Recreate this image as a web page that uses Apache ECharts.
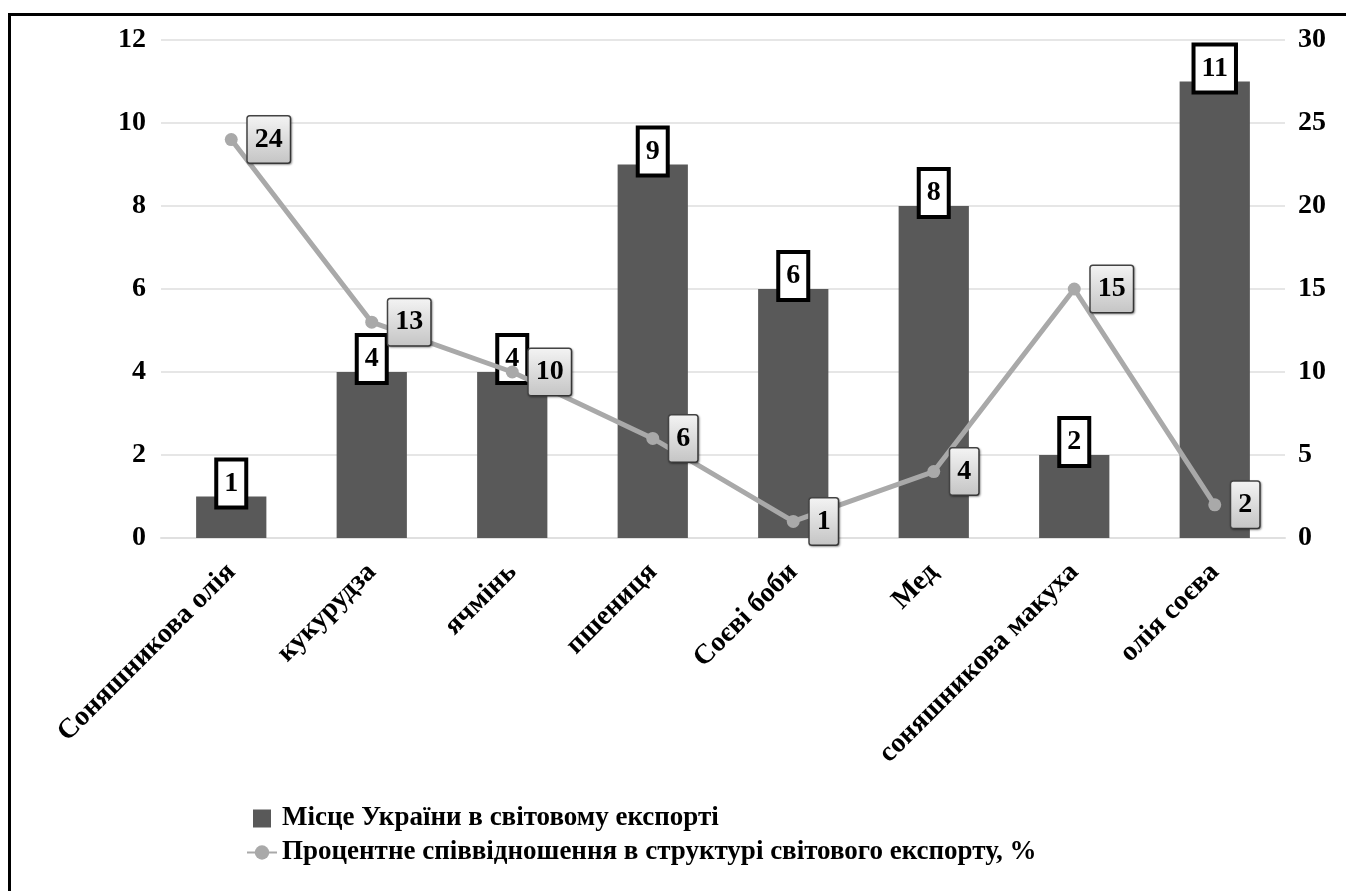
<!DOCTYPE html>
<html>
<head>
<meta charset="utf-8">
<script src="https://cdn.jsdelivr.net/npm/echarts@6/dist/echarts.min.js"></script>
<style>
  html, body { margin: 0; padding: 0; background: #fff; overflow: hidden; }
  #frame { position: absolute; left: 8px; top: 13px; width: 1500px; height: 1000px;
           border-left: 3px solid #000; border-top: 3px solid #000; }
  #chart { position: absolute; left: 0; top: 0; width: 1346px; height: 891px; }
</style>
</head>
<body>
<div id="frame"></div>
<div id="chart"></div>
<script>
// ---- дані ----
var categories = ["Соняшникова олія", "кукурудза", "ячмінь", "пшениця", "Соєві боби", "Мед", "соняшникова макуха", "олія соєва"];
var rankValues = [1, 4, 4, 9, 6, 8, 2, 11];
var shareValues = [24, 13, 10, 6, 1, 4, 15, 2];
var seriesNames = ["Місце України в світовому експорті", "Процентне співвідношення в структурі світового експорту, %"];

var FONT = "'Liberation Serif', 'Times New Roman', serif";
var BAR_COLOR = "#595959";
var LINE_COLOR = "#a9a9a9";

var chart = echarts.init(document.getElementById("chart"), null, { renderer: "canvas" });

chart.setOption({
  animation: false,
  textStyle: { fontFamily: FONT, color: "#000" },
  grid: { left: 161, right: 61, top: 40, bottom: 353 },
  legend: {
    orient: "vertical",
    left: 241,
    top: 800,
    itemGap: 7,
    itemWidth: 30,
    itemHeight: 18,
    textStyle: { fontFamily: FONT, fontSize: 27, fontWeight: "bold", color: "#000" },
    data: [
      { name: seriesNames[0], icon: "path://M0,0h16v16h-16z" },
      { name: seriesNames[1] }
    ]
  },
  xAxis: {
    type: "category",
    data: categories,
    axisLine: { lineStyle: { color: "#e0e0e0", width: 2 } },
    axisTick: { show: false },
    axisLabel: { rotate: 45, margin: 30, interval: 0, fontFamily: FONT, fontSize: 28, fontWeight: "bold", color: "#000" }
  },
  yAxis: [{
    type: "value", min: 0, max: 12, interval: 2,
    axisLine: { show: false }, axisTick: { show: false },
    axisLabel: { margin: 15, fontFamily: FONT, fontSize: 28, fontWeight: "bold", color: "#000" },
    splitLine: { lineStyle: { color: "#e6e6e6", width: 2 } }
  }, {
    type: "value", min: 0, max: 30, interval: 5,
    axisLine: { show: false }, axisTick: { show: false },
    axisLabel: { margin: 13, fontFamily: FONT, fontSize: 28, fontWeight: "bold", color: "#000" },
    splitLine: { show: false }
  }],
  series: [{
    name: seriesNames[0],
    type: "bar",
    yAxisIndex: 0,
    data: rankValues,
    barWidth: "50%",
    itemStyle: { color: BAR_COLOR },
    z: 2,
    label: {
      show: true, position: "top", distance: -9,
      fontFamily: FONT, fontSize: 28, fontWeight: "bold", color: "#000", lineHeight: 28,
      backgroundColor: "#fff", borderColor: "#000", borderWidth: 4, padding: [8, 6, 8, 6]
    }
  }, {
    name: seriesNames[1],
    type: "line",
    yAxisIndex: 1,
    data: shareValues,
    symbol: "circle",
    symbolSize: 13,
    lineStyle: { color: LINE_COLOR, width: 5 },
    itemStyle: { color: LINE_COLOR },
    z: 3,
    label: {
      show: true, position: "right", distance: 10,
      fontFamily: FONT, fontSize: 28, fontWeight: "bold", color: "#000", lineHeight: 28,
      backgroundColor: {
        type: "linear", x: 0, y: 0, x2: 0, y2: 1,
        colorStops: [{ offset: 0, color: "#f4f4f4" }, { offset: 1, color: "#c4c4c4" }]
      },
      borderColor: "#444", borderWidth: 1.5, borderRadius: 2, padding: [9, 7, 9, 7],
      shadowColor: "rgba(0,0,0,0.35)", shadowBlur: 2, shadowOffsetX: 1, shadowOffsetY: 1
    }
  }]
});
</script>
</body>
</html>
